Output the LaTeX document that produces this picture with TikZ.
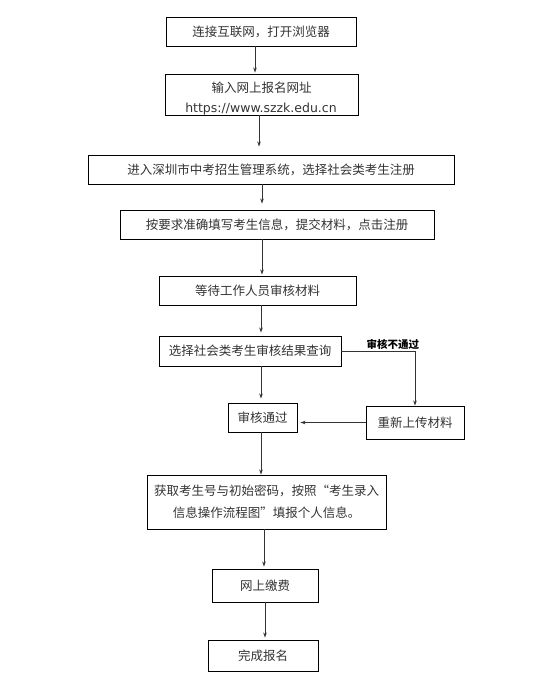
\documentclass[tikz,border=0pt]{standalone}
\usepackage{fontspec}
\newfontfamily\cjk{Noto Sans CJK SC}
\newfontfamily\urlfont{DejaVu Sans}
\usetikzlibrary{arrows.meta}

\begin{document}
\begin{tikzpicture}[x=1pt,y=-1pt,font=\cjk\fontsize{12.5}{22}\selectfont,box/.style n args={2}{draw=black,line width=0.9pt,text=black!80,minimum width=#1,minimum height=#2,inner sep=0pt,align=center},arr/.style={draw=black!80,line width=0.8pt,-{Stealth[length=5pt,width=3.5pt]}}]
\useasboundingbox (0,0) rectangle (532,700);
% steps, top to bottom
\node[box={190pt}{29pt}] (connect) at (261,31.5) {连接互联网，打开浏览器};
\node[text=black!80] (urltitle) at (261.5,88) {输入网上报名网址};
\node[text=black!80,anchor=base,inner sep=0pt] (urltext) at (261,112.5) {\urlfont\fontsize{12.5}{14}\selectfont https://www.szzk.edu.cn};
\node[box={193pt}{41pt}] (urlbox) at (261.5,94.5) {};
\node[box={366pt}{29pt}] (system) at (271,169.5) {进入深圳市中考招生管理系统，选择社会类考生注册};
\node[box={314pt}{29pt}] (fill) at (277,224.5) {按要求准确填写考生信息，提交材料，点击注册};
\node[box={197pt}{29pt}] (wait) at (257.5,290.5) {等待工作人员审核材料};
\node[box={182pt}{30pt}] (query) at (250,351) {选择社会类考生审核结果查询};
\node[box={69pt}{29pt}] (pass) at (262.5,417.5) {审核通过};
\node[box={98pt}{33pt}] (reupload) at (415,422.5) {重新上传材料};
\node[box={239pt}{54pt}] (info) at (266.5,502) {获取考生号与初始密码，按照“考生录入\\信息操作流程图”填报个人信息。};
\node[box={106pt}{33pt}] (pay) at (265,585.5) {网上缴费};
\node[box={110pt}{31pt}] (done) at (263,655.5) {完成报名};
% main line
\foreach \a/\b/\s/\g in %
{connect/urlbox/-6/1,urlbox/system/-2.5/8,system/fill/-9/6,fill/wait/-15/1,wait/query/3.5/3,query/pass/11/4,pass/info/-1.5/0,info/pay/-2.5/2,pay/done/0/2} {
   \draw[arr,shorten >=\g pt] ([xshift=\s pt]\a.south) -- ([xshift=\s pt]\a.south |- \b.north);
}
% rejected branch
\draw[arr] (query.east) -| node[pos=0.35,above,inner sep=1.5pt,text=black,font=\cjk\bfseries\fontsize{10.5}{12}\selectfont] (reject) {审核不通过} (reupload.north);
\draw[arr,shorten >=3pt] (reupload.west) -- (reupload.west -| pass.east);
\end{tikzpicture}
\end{document}
